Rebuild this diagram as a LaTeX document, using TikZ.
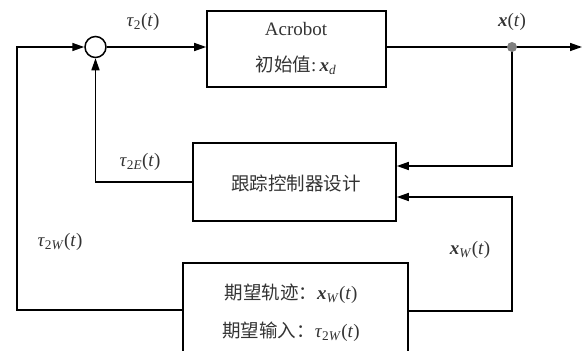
\documentclass[tikz,border=0pt]{standalone}
\usepackage{fontspec}
\setmainfont{Liberation Serif}
\newfontfamily\cjk{Noto Sans CJK SC}
\usetikzlibrary{arrows.meta}
\newcommand\mytau{\textit{τ}}
\newcommand\bx{\textbf{\textit{x}}}
\begin{document}
\begin{tikzpicture}[x=1pt,y=-1pt,
  line width=1.5pt,
  >={Triangle[length=12pt,width=8pt]},
  box/.style={draw, line width=1.6pt, inner sep=0pt},
  lbl/.style={text=black!80, font=\fontsize{19}{22}\selectfont, inner sep=0pt},
  cn/.style={lbl, font=\fontsize{18.5}{22}\selectfont\cjk}]
\useasboundingbox (0,0) rectangle (582,351);
% blocks
\node[box, minimum width=179pt, minimum height=76pt] (acro) at (296.5,49) {};
\node[box, minimum width=203pt, minimum height=78pt] (ctrl) at (294.5,182) {};
\node[box, minimum width=225pt, minimum height=92pt] (des) at (295.5,309) {};
\node[draw, circle, line width=1.5pt, minimum size=21pt, inner sep=0pt] (j) at (95.5,47) {};
% coordinates
\coordinate (tap) at (512,47);
\coordinate (out) at (582,47);
\coordinate (c1) at (512,166);
\coordinate (c2) at (512,197);
\coordinate (c3) at (512,311);
\coordinate (c4) at (17,310);
\coordinate (c5) at (17,47);
\coordinate (c6) at (95.5,182);
% connectors
\draw[->] (j.east) -- (j.east -| acro.west);
\draw[->] (acro.east |- tap) -- (out);
\draw[->] (tap) -- (c1) -- (c1 -| ctrl.east);
\draw[->] (c3 -| des.east) -- (c3) -- (c2) -- (c2 -| ctrl.east);
\draw[->] (ctrl.west |- c6) -- (c6) -- (j.south);
\draw[->] (c4 -| des.west) -- (c4) -- (c5) -- (j.west);
\fill[black!50] (tap) circle (5pt);
% texts
\node[lbl] (tacro) at (296,29) {Acrobot};
\node[lbl] (tinit) at (296,65) {{\cjk\fontsize{18.5}{22}\selectfont 初始值}:\,\bx\textsubscript{\textit{d}}};
\node[cn] (tctrl) at (296,183) {跟踪控制器设计};
\node[lbl] (tdes1) at (291,294) {{\cjk\fontsize{18.5}{22}\selectfont 期望轨迹：}\bx\textsubscript{\textit{W}}(\textit{t})};
\node[lbl] (tdes2) at (291,332) {{\cjk\fontsize{18.5}{22}\selectfont 期望输入：}\mytau\textsubscript{2\textit{W}}(\textit{t})};
\node[lbl] (ltau2) at (143,22) {\mytau\textsubscript{2}(\textit{t})};
\node[lbl] (lx) at (512,22) {\bx(\textit{t})};
\node[lbl] (ltauE) at (140,162) {\mytau\textsubscript{2\textit{E}}(\textit{t})};
\node[lbl] (ltauW) at (60,242) {\mytau\textsubscript{2\textit{W}}(\textit{t})};
\node[lbl] (lxW) at (470,250) {\bx\textsubscript{\textit{W}}(\textit{t})};
\end{tikzpicture}
\end{document}
